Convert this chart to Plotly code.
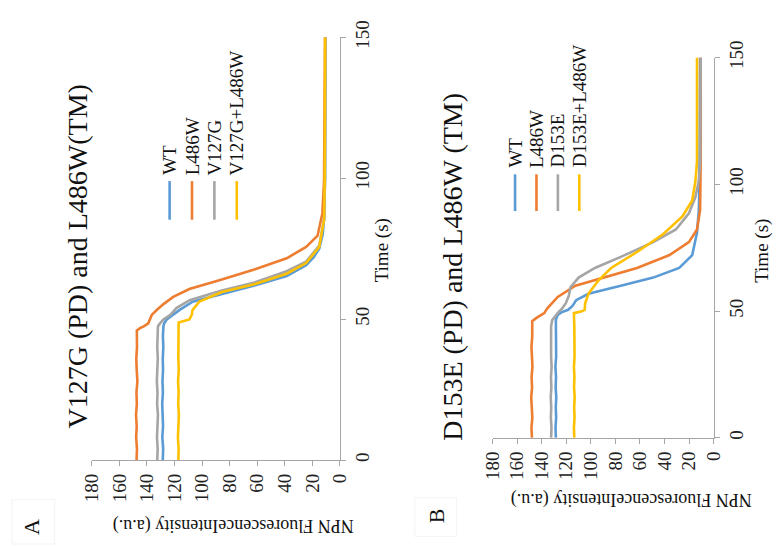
import plotly.graph_objects as go

W, H = 781, 547
FONT = "Liberation Serif"

# ---------------- data (time in s, NPN fluorescence in a.u.) ----------------
series_names_A = ["WT", "L486W", "V127G", "V127G+L486W"]
series_names_B = ["WT", "L486W", "D153E", "D153E+L486W"]
colors = ["#5B9BD5", "#ED7D31", "#A5A5A5", "#FFC000"]

plateau_t = [0, 4, 8, 12, 16, 20, 24, 28, 32, 36, 40, 44]

A_WT_t = plateau_t + [47.5, 48.5, 49.9, 51.5, 53.3, 56.2, 59.0, 61.9, 65.3, 69.1, 72.0, 75.0, 80.0, 85.3, 100, 125, 150]
A_WT_f = [128.5, 128.2, 128.8, 128.3, 128.6, 128.9, 128.4, 128.7, 128.3, 128.5, 128.1, 128.4,
          128.0, 127.5, 125.6, 121.0, 116.2, 106.8, 85.6, 62.0, 38.6, 24.5, 19.0, 15.0, 12.5, 11.5, 10.8, 10.6, 10.5]

A_L486W_t = plateau_t + [46.0, 46.8, 47.5, 48.5, 49.5, 50.5, 51.5, 53.3, 55.5, 57.9, 60.7, 64.1, 67.6, 71.6, 75.6, 79.6, 87.6, 99, 125, 150]
A_L486W_f = [147.5, 147.2, 147.8, 147.4, 147.9, 147.3, 147.6, 146.9, 147.4, 147.7, 147.2, 147.5,
             147.3, 145.0, 142.0, 139.0, 138.0, 137.5, 136.5, 132.7, 127.5, 120.9, 109.2, 85.6, 62.1, 38.6, 24.5, 16.2, 12.7, 11.5, 11.0, 10.8]

A_V127G_t = plateau_t + [47.5, 48.5, 49.9, 51.5, 53.9, 56.7, 60.2, 63.0, 67.0, 70.4, 76.1, 85.3, 100, 125, 150]
A_V127G_f = [132.5, 132.2, 132.7, 132.4, 132.0, 132.6, 132.3, 132.8, 132.4, 132.1, 132.5, 132.3,
             132.0, 130.5, 128.0, 123.0, 118.6, 109.0, 85.6, 62.0, 38.6, 24.5, 15.0, 11.5, 10.8, 10.6, 10.5]

A_V127GL_t = plateau_t + [48.8, 49.9, 51.5, 53.3, 56.2, 59.6, 62.4, 66.1, 69.9, 75.6, 85.3, 100, 125, 150]
A_V127GL_f = [117.2, 117.0, 117.5, 117.1, 116.8, 117.3, 117.0, 117.4, 116.9, 117.2, 117.0, 117.3,
              117.0, 109.2, 107.5, 106.8, 102.0, 85.6, 62.0, 38.6, 24.5, 15.0, 11.5, 11.0, 10.8, 10.7]

B_WT_t = plateau_t + [46.7, 48.5, 49.5, 50.5, 52.0, 54.3, 56.8, 60.0, 63.2, 67.0, 72.1, 81.0, 90, 100, 125, 150]
B_WT_f = [128.5, 128.8, 128.3, 128.6, 128.2, 128.7, 128.4, 128.9, 128.3, 128.6, 128.4, 128.5,
          128.5, 127.0, 124.0, 118.5, 115.0, 112.0, 102.0, 75.6, 49.2, 28.0, 17.4, 13.5, 12.0, 11.5, 11.2, 11.0]

B_L486W_t = plateau_t + [46.0, 47.3, 49.2, 51.1, 53.0, 55.6, 60.0, 63.2, 67.0, 72.1, 77.2, 82.2, 89.8, 109, 150]
B_L486W_f = [148.0, 148.4, 147.7, 148.2, 148.6, 147.9, 148.3, 147.6, 148.1, 148.4, 147.8, 148.1,
             147.8, 144.3, 138.0, 135.5, 132.0, 127.0, 112.6, 88.8, 62.4, 35.9, 20.1, 13.5, 11.0, 10.5, 10.5]

B_D153E_t = plateau_t + [46.5, 47.5, 49.2, 51.0, 53.0, 56.0, 59.4, 63.2, 67.0, 71.4, 77.2, 82.2, 88.6, 94.9, 101.3, 109, 150]
B_D153E_f = [132.4, 132.1, 132.6, 132.3, 132.7, 132.2, 132.5, 132.0, 132.4, 132.6, 132.2, 132.4,
             131.5, 130.0, 127.1, 123.5, 120.5, 118.0, 116.6, 110.0, 96.7, 75.6, 49.2, 30.7, 20.1, 14.8, 12.1, 10.9, 10.5]

B_D153EL_t = plateau_t + [49.2, 49.9, 50.5, 53.0, 56.8, 61.9, 67.0, 73.3, 80.3, 87.3, 93.6, 101.3, 109, 150]
B_D153EL_f = [113.5, 113.8, 113.3, 113.6, 113.2, 113.7, 113.4, 113.8, 113.3, 113.6, 113.4, 113.5,
              113.8, 107.3, 105.0, 104.7, 102.0, 94.1, 83.5, 62.4, 41.2, 25.4, 17.4, 14.8, 13.5, 13.5]

panel_A = [(A_WT_t, A_WT_f), (A_L486W_t, A_L486W_f), (A_V127G_t, A_V127G_f), (A_V127GL_t, A_V127GL_f)]
panel_B = [(B_WT_t, B_WT_f), (B_L486W_t, B_L486W_f), (B_D153E_t, B_D153E_f), (B_D153EL_t, B_D153EL_f)]

fluor_ticks = [0, 20, 40, 60, 80, 100, 120, 140, 160, 180]
time_ticks = [0, 50, 100, 150]

title_A = "V127G (PD) and L486W(TM)"
title_B = "D153E (PD) and L486W (TM)"
y_title = "NPN FluorescenceIntensity (a.u.)"
x_title = "Time (s)"


def px(x):
    return x / W


def py(y):
    return 1 - y / H


fig = go.Figure()

for (t, f), name, c in zip(panel_A, series_names_A, colors):
    fig.add_trace(go.Scatter(x=f, y=t, mode="lines", name=name, showlegend=False,
                             line=dict(color=c, width=2.6), xaxis="x", yaxis="y"))
for (t, f), name, c in zip(panel_B, series_names_B, colors):
    fig.add_trace(go.Scatter(x=f, y=t, mode="lines", name=name, showlegend=False,
                             line=dict(color=c, width=2.6), xaxis="x2", yaxis="y2"))

axis_common = dict(showgrid=False, zeroline=False, showline=True, linecolor="#A6A6A6", linewidth=1.3,
                   ticks="outside", ticklen=5, tickcolor="#A6A6A6", tickangle=-90,
                   tickfont=dict(family=FONT, size=19, color="#222"))

fig.update_layout(
    width=W, height=H, margin=dict(l=0, r=0, t=0, b=0),
    paper_bgcolor="white", plot_bgcolor="white", showlegend=False,
    xaxis=dict(domain=[px(83), px(338)], range=[180, 0], tickvals=fluor_ticks, anchor="y", **axis_common),
    yaxis=dict(domain=[py(459), py(21)], range=[0, 150], tickvals=time_ticks, side="right", anchor="x", **axis_common),
    xaxis2=dict(domain=[px(495), px(722)], range=[180, 0], tickvals=fluor_ticks, anchor="y2", **axis_common),
    yaxis2=dict(domain=[py(436), py(42)], range=[0, 150], tickvals=time_ticks, side="right", anchor="x2", **axis_common),
)

ann = []
shapes = []


def text(x, y, s, size, angle, xanchor="center", yanchor="middle"):
    ann.append(dict(x=px(x), y=py(y), xref="paper", yref="paper", text=s, showarrow=False,
                    textangle=angle, xanchor=xanchor, yanchor=yanchor,
                    font=dict(family=FONT, size=size, color="#111")))


# titles
text(68, 248, title_A, 28, -90)
text(453, 259, title_B, 28, -90)
# axis titles
text(228, 527, y_title, 18, 180)
text(637, 500, y_title, 18, 180)
text(381, 242, x_title, 19, -90)
text(771, 242, x_title, 19, -90)

# legends (rotated)
legA_x = [163, 186, 209, 232]
legB_x = [518, 540, 562, 584]
for names, xs, y0, y1, ytxt in [(series_names_A, legA_x, 210, 170, 166), (series_names_B, legB_x, 201, 163, 158)]:
    for name, x, c in zip(names, xs, colors):
        shapes.append(dict(type="line", xref="paper", yref="paper", x0=px(x), x1=px(x), y0=py(y0), y1=py(y1),
                           line=dict(color=c, width=2.6)))
        text(x, ytxt, name, 19, -90, yanchor="bottom")

# panel labels with faint boxes
shapes.append(dict(type="rect", xref="paper", yref="paper", x0=px(1), x1=px(45), y0=py(546), y1=py(500),
                   line=dict(color="#F3F3F3", width=1)))
shapes.append(dict(type="rect", xref="paper", yref="paper", x0=px(415), x1=px(458), y0=py(538), y1=py(498),
                   line=dict(color="#F3F3F3", width=1)))
text(21, 528, "A", 22, -90)
text(437, 517, "B", 22, -90)

fig.update_layout(annotations=ann, shapes=shapes)
fig.write_html("out.html")
